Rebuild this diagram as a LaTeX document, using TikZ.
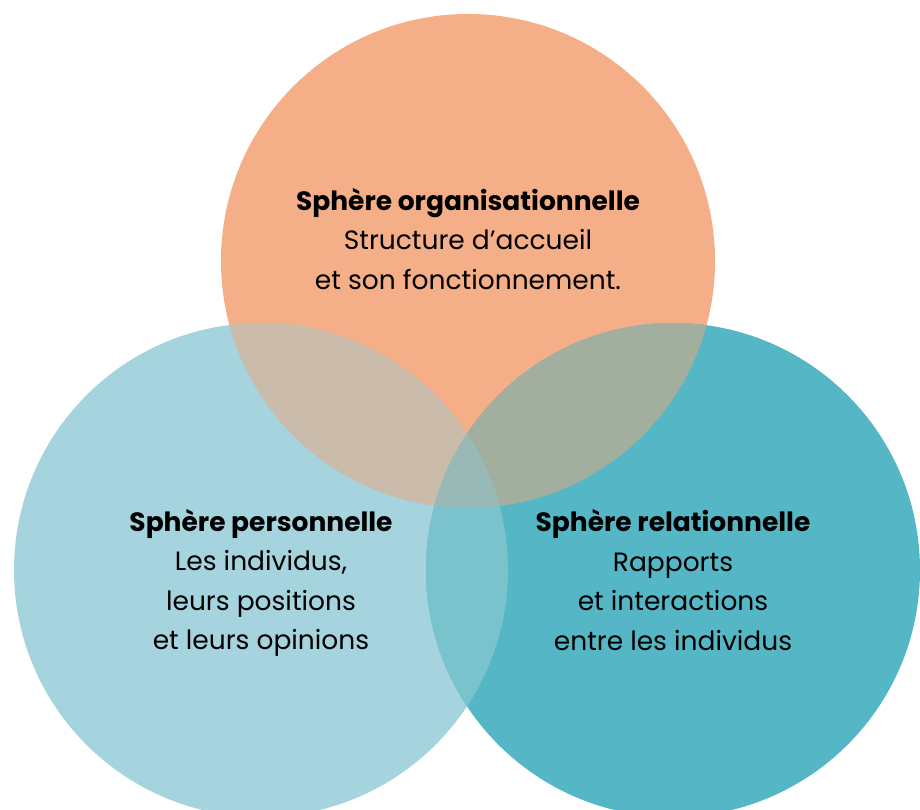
\documentclass[tikz,border=0pt]{standalone}
\usepackage{fontspec}
\setmainfont{Poppins}
\usetikzlibrary{positioning}
\definecolor{orgcol}{HTML}{F4AE88}
\definecolor{perscol}{HTML}{A6D4DE}
\definecolor{relcol}{HTML}{55B7C6}
\definecolor{orgperscol}{HTML}{CABBAA}
\definecolor{orgrelcol}{HTML}{A3AF9E}
\definecolor{persrelcol}{HTML}{7AC3CD}
\definecolor{allcol}{HTML}{98B9B5}
\newcommand{\orgcircle}{(468,261) circle (247pt)}
\newcommand{\perscircle}{(261,570) circle (247pt)}
\newcommand{\relcircle}{(673,570) circle (247pt)}

\begin{document}
\begin{tikzpicture}[x=1pt,y=-1pt,
    spheretext/.style={align=center, text=black, font=\fontsize{26.5}{39.5}\selectfont}]
        \useasboundingbox (0,0) rectangle (920,810);
        \clip (0,0) rectangle (920,810);

        %%CIRCLES
        % Plain fills
        \fill[orgcol] \orgcircle;
        \fill[perscol] \perscircle;
        \fill[relcol] \relcircle;

        % Overlaps
        \begin{scope}
          \clip \orgcircle;
          \fill[orgperscol] \perscircle;
          \fill[orgrelcol] \relcircle;
        \end{scope}
        \begin{scope}
          \clip \perscircle;
          \fill[persrelcol] \relcircle;
          \clip \relcircle;
          \fill[allcol] \orgcircle;
        \end{scope}

        %%LABELS
        \node[spheretext] (orgtext) at (468,239) {\textbf{Sphère organisationnelle}\\Structure d’accueil\\et son fonctionnement.};
        \node[spheretext] (perstext) at (261,583) {\textbf{Sphère personnelle}\\Les individus,\\leurs positions\\et leurs opinions};
        \node[spheretext] (reltext) at (673,580) {\textbf{Sphère relationnelle}\\Rapports\\et interactions\\entre les individus};

    \end{tikzpicture}
\end{document}
